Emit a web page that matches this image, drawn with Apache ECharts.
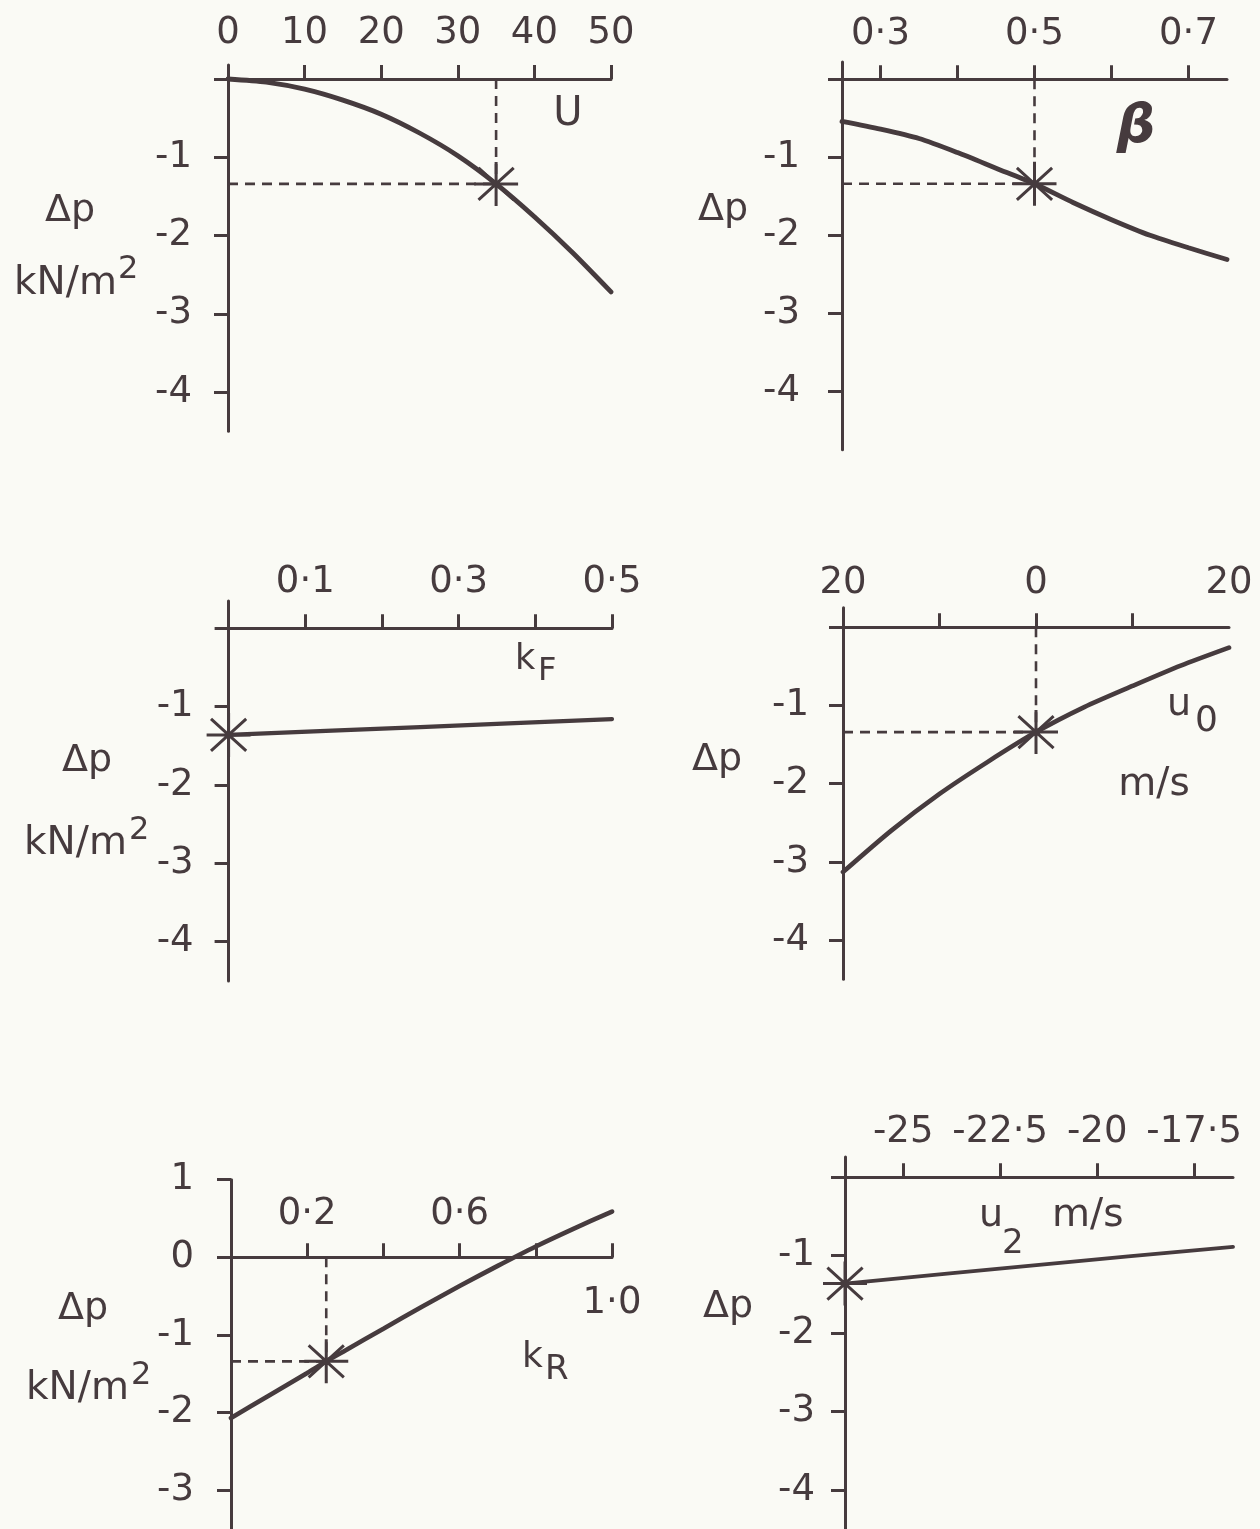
<!DOCTYPE html>
<html>
<head>
<meta charset="utf-8">
<title>Δp sensitivity</title>
<script src="https://cdn.jsdelivr.net/npm/echarts@6.0.0/dist/echarts.min.js"></script>
<style>
  html, body { margin: 0; padding: 0; background: #fafaf5; }
  #chart { width: 1260px; height: 1529px; }
</style>
</head>
<body>
<div id="chart"></div>
<script>
// values
const uVals = [0, 5, 10, 15, 20, 25, 30, 35, 40, 45, 50];
const dpU = [0, -0.04, -0.13, -0.27, -0.45, -0.69, -0.98, -1.34, -1.76, -2.22, -2.72];

const betaVals = [0.25, 0.3, 0.35, 0.4, 0.45, 0.5, 0.55, 0.6, 0.65, 0.7, 0.75];
const dpBeta = [-0.54, -0.64, -0.76, -0.94, -1.14, -1.34, -1.58, -1.8, -2.0, -2.16, -2.31];

const kFVals = [0, 0.25, 0.5];
const dpKF = [-1.36, -1.26, -1.16];

const u0Vals = [-20, -15, -10, -5, 0, 5, 10, 15, 20];
const dpU0 = [-3.13, -2.6, -2.13, -1.72, -1.34, -1.02, -0.75, -0.49, -0.26];

const kRVals = [0, 0.1, 0.2, 0.25, 0.3, 0.4, 0.5, 0.6, 0.7, 0.8, 0.9, 1.0];
const dpKR = [-2.07, -1.78, -1.49, -1.34, -1.2, -0.92, -0.64, -0.37, -0.11, 0.14, 0.37, 0.59];

const u2Vals = [-26.5, -21.5, -16.5];
const dpU2 = [-1.36, -1.12, -0.89];

// design point (star) of each panel
const starU = [35, -1.34];
const starBeta = [0.5, -1.34];
const starKF = [0, -1.36];
const starU0 = [0, -1.34];
const starKR = [0.25, -1.34];
const starU2 = [-26.5, -1.36];

// tick positions and labels
const ticksU = [10, 20, 30, 40, 50];
const labelsU = [0, 10, 20, 30, 40, 50];
const ticksBeta = [0.3, 0.4, 0.5, 0.6, 0.7];
const labelsBeta = [0.3, 0.5, 0.7];
const ticksKF = [0.1, 0.2, 0.3, 0.4, 0.5];
const labelsKF = [0.1, 0.3, 0.5];
const ticksU0 = [-10, 0, 10];
const labelsU0 = [-20, 0, 20];
const ticksKR = [0.2, 0.4, 0.6, 0.8, 1.0];
const labelsKR = [0.2, 0.6];
const labelsKRBelow = [1.0];
const ticksU2 = [-25, -22.5, -20, -17.5];
const labelsU2 = [-25, -22.5, -20, -17.5];
const ticksDp = [0, -1, -2, -3, -4];
const labelsDp = [-1, -2, -3, -4];
const ticksDpKR = [1, 0, -1, -2, -3];
const labelsDpKR = [1, 0, -1, -2, -3];

const ink = '#463b3e';
const font = "'DejaVu Sans', 'Liberation Sans', sans-serif";
const tickFont = 37;

function dot(v) { return String(v).replace('.', '·'); }
function dot1(v) { return v.toFixed(1).replace('.', '·'); }
function plain(v) { return String(v); }
function abs(v) { return String(Math.abs(v)); }

function zip(xs, ys) {
  return xs.map((x, i) => [x, ys[i]]);
}

// x label margins are taken from the grid's top edge
const panels = [
  { box: [228, 64.9, 383, 366.4], x: [0, 50], y: [-4.5, 0.18], xt: ticksU, xl: labelsU, xf: plain, xm: 13,
    yt: ticksDp, yl: labelsDp, ym: 36, data: zip(uVals, dpU), w: 4.8, star: starU, guides: true },
  { box: [842, 62.1, 385, 387.7], x: [0.25, 0.75], y: [-4.75, 0.22], xt: ticksBeta, xl: labelsBeta, xf: dot, xm: 9,
    yt: ticksDp, yl: labelsDp, ym: 42, data: zip(betaVals, dpBeta), w: 4.8, star: starBeta, guides: true },
  { box: [228.6, 600.9, 383.4, 380], x: [0, 0.5], y: [-4.5, 0.35], xt: ticksKF, xl: labelsKF, xf: dot, xm: 0,
    yt: ticksDp, yl: labelsDp, ym: 35, data: zip(kFVals, dpKF), w: 4.2, star: starKF, guides: false },
  { box: [843, 607.75, 386, 371.5], x: [-20, 20], y: [-4.5, 0.25], xt: ticksU0, xl: labelsU0, xf: abs, xm: 6,
    yt: ticksDp, yl: labelsDp, ym: 34, data: zip(u0Vals, dpU0), w: 4.6, star: starU0, guides: true },
  { box: [231, 1179.7, 381, 351], x: [0, 1], y: [-3.5, 1], xt: ticksKR, xl: labelsKR, xf: dot, xm: -53,
    yt: ticksDpKR, yl: labelsDpKR, ym: 37, data: zip(kRVals, dpKR), w: 4.6, star: starKR, guides: true },
  { box: [845, 1156.9, 388, 374], x: [-26.5, -16.5], y: [-4.5, 0.26], xt: ticksU2, xl: labelsU2, xf: dot, xm: 6,
    yt: ticksDp, yl: labelsDp, ym: 30, data: zip(u2Vals, dpU2), w: 3.8, star: starU2, guides: false }
];

const starPath = 'path://M22,0L22,44M2,22L42,22M6,6L38,38M6,38L38,6';

const series = [];
panels.forEach((p, i) => {
  series.push({
    type: 'line', xAxisIndex: i, yAxisIndex: i, data: p.data,
    smooth: 0.25, showSymbol: false, silent: true, z: 3,
    lineStyle: { color: ink, width: p.w, cap: 'round' }
  });
  if (p.guides) {
    const dash = { color: ink, width: 2.6, type: [10, 7] };
    series.push({
      type: 'line', xAxisIndex: i, yAxisIndex: i, showSymbol: false, silent: true, z: 2,
      data: [[p.x[0], p.star[1]], [p.star[0], p.star[1]]], lineStyle: dash
    });
    series.push({
      type: 'line', xAxisIndex: i, yAxisIndex: i, showSymbol: false, silent: true, z: 2,
      data: [[p.star[0], 0], [p.star[0], p.star[1]]], lineStyle: dash
    });
  }
  series.push({
    type: 'scatter', xAxisIndex: i, yAxisIndex: i, data: [p.star], silent: true, z: 4,
    symbol: starPath, symbolSize: 44,
    itemStyle: { color: 'rgba(0,0,0,0)', borderColor: ink, borderWidth: 3, opacity: 1 }
  });
});

// the 1·0 tick label of the k_R panel sits below its axis
series.push({
  type: 'scatter', xAxisIndex: 4, yAxisIndex: 4, silent: true, symbolSize: 0,
  itemStyle: { opacity: 1 },
  data: labelsKRBelow.map(v => [v, 0]),
  label: {
    show: true, position: 'bottom', distance: 28, formatter: d => dot1(d.value[0]),
    color: ink, fontSize: tickFont, fontFamily: font
  }
});

function txt(text, x, y, size, align, extra) {
  return {
    type: 'text', x: x, y: y, silent: true,
    style: Object.assign({
      text: text, fill: ink, fontSize: size, fontFamily: font,
      align: align || 'center', verticalAlign: 'middle'
    }, extra || {})
  };
}

const texts = [
  txt('U', 568, 115, 40),
  txt('Δp', 70, 211, 38),
  txt('kN/m', 14, 284, 39, 'left'),
  txt('2', 118, 270, 32, 'left'),

  txt('Δp', 723, 210, 38),
  txt('β', 1136, 128, 54, 'center', { fontStyle: 'italic', fontWeight: 'bold' }),

  txt('k', 515, 660, 35, 'left'),
  txt('F', 538, 672, 32, 'left'),
  txt('Δp', 87, 761, 38),
  txt('kN/m', 24, 844, 39, 'left'),
  txt('2', 129, 831, 32, 'left'),

  txt('Δp', 717, 760, 38),
  txt('u', 1167, 705, 38, 'left'),
  txt('0', 1195, 722, 36, 'left'),
  txt('m/s', 1154, 785, 39),

  txt('Δp', 83, 1309, 38),
  txt('kN/m', 26, 1389, 39, 'left'),
  txt('2', 131, 1376, 32, 'left'),
  txt('k', 522, 1358, 36, 'left'),
  txt('R', 545, 1370, 34, 'left'),

  txt('Δp', 728, 1307, 38),
  txt('u', 979, 1216, 38, 'left'),
  txt('2', 1002, 1244, 34, 'left'),
  txt('m/s', 1052, 1216, 39, 'left')
];

const option = {
  backgroundColor: '#fafaf5',
  animation: false,
  grid: panels.map(p => ({ left: p.box[0], top: p.box[1], width: p.box[2], height: p.box[3] })),
  xAxis: panels.map((p, i) => ({
    type: 'value', gridIndex: i, position: 'top', min: p.x[0], max: p.x[1],
    axisLine: { show: true, onZero: true, lineStyle: { color: ink, width: 3 } },
    axisTick: { show: true, length: 14, customValues: p.xt, lineStyle: { color: ink, width: 3 } },
    axisLabel: { customValues: p.xl, formatter: p.xf, margin: p.xm, color: ink, fontSize: tickFont, fontFamily: font },
    splitLine: { show: false }
  })),
  yAxis: panels.map((p, i) => ({
    type: 'value', gridIndex: i, position: 'left', min: p.y[0], max: p.y[1],
    axisLine: { show: true, onZero: false, lineStyle: { color: ink, width: 3 } },
    axisTick: { show: true, length: 14, customValues: p.yt, lineStyle: { color: ink, width: 3 } },
    axisLabel: { customValues: p.yl, formatter: plain, margin: p.ym, color: ink, fontSize: tickFont, fontFamily: font },
    splitLine: { show: false }
  })),
  series: series,
  graphic: texts
};

const chart = echarts.init(document.getElementById('chart'), null, { renderer: 'canvas' });
chart.setOption(option);
</script>
</body>
</html>
